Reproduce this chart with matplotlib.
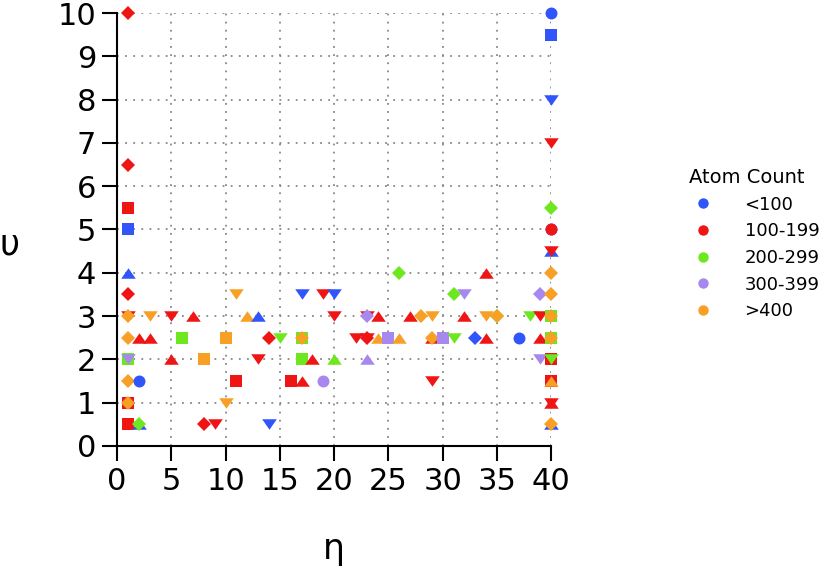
import matplotlib
matplotlib.use('Agg')
import matplotlib.pyplot as plt
from matplotlib.lines import Line2D

# data: eta, upsilon, atom-count group, marker shape
eta = [1, 1, 1, 1, 1, 1, 1, 1, 1, 1, 1, 1, 1, 1, 1, 1,
       2, 2, 2, 2, 3, 3, 5, 5, 6, 7, 8, 8, 9, 10, 10, 11, 11, 12, 13, 13,
       14, 14, 15, 16, 17, 17, 17, 17, 17, 18, 19, 19, 20, 20, 20, 22,
       23, 23, 23, 23, 23, 24, 24, 25, 26, 26, 27, 28, 29, 29, 29, 29,
       30, 31, 31, 32, 32, 33, 34, 34, 34, 35, 35, 37, 38, 39, 39, 39, 39,
       40, 40, 40, 40, 40, 40, 40, 40, 40, 40, 40, 40, 40, 40, 40, 40, 40,
       40, 40, 40, 40, 40, 40]
upsilon = [10, 6.5, 5.5, 5, 4, 3.5, 3, 3, 2.5, 2, 2, 1.5, 1, 1, 0.5, 0.5,
           2.5, 1.5, 0.5, 0.5, 3, 2.5, 3, 2, 2.5, 3, 2, 0.5, 0.5, 2.5, 1, 3.5, 1.5, 3, 3, 2,
           2.5, 0.5, 2.5, 1.5, 3.5, 2.5, 2.5, 2, 1.5, 2, 3.5, 1.5, 3.5, 3, 2, 2.5,
           3, 3, 2.5, 2.5, 2, 3, 2.5, 2.5, 4, 2.5, 3, 3, 3, 2.5, 2.5, 1.5,
           2.5, 3.5, 2.5, 3.5, 3, 2.5, 4, 3, 2.5, 3, 3, 2.5, 3, 3.5, 3, 2.5, 2,
           10, 9.5, 8, 7, 5.5, 5, 5, 4.5, 4.5, 4, 3.5, 3, 3, 2.5, 2.5, 2, 2,
           1.5, 1.5, 1, 1, 0.5, 0.5]
group = [1, 1, 1, 0, 0, 1, 1, 4, 4, 2, 3, 4, 1, 4, 1, 1,
         1, 0, 0, 2, 4, 1, 1, 1, 2, 1, 4, 1, 1, 4, 4, 4, 1, 4, 0, 1,
         1, 0, 2, 1, 0, 2, 4, 2, 1, 1, 1, 3, 0, 1, 2, 1,
         1, 3, 1, 1, 3, 1, 4, 3, 2, 4, 1, 4, 4, 1, 4, 1,
         3, 2, 2, 3, 1, 0, 1, 4, 1, 2, 4, 0, 2, 3, 1, 1, 3,
         0, 0, 0, 1, 2, 0, 1, 0, 1, 4, 4, 2, 4, 2, 4, 1, 2,
         1, 4, 1, 1, 0, 4]
shape = ['D', 'D', 's', 's', '^', 'D', 'v', 'D', 'D', 's', 'v', 'D', 's', 'D', 's', 's',
         '^', 'o', '^', 'D', 'v', '^', 'v', '^', 's', '^', 's', 'D', 'v', 's', 'v', 'v', 's', '^', '^', 'v',
         'D', 'v', 'v', 's', 'v', 's', 'D', 's', '^', '^', 'v', 'o', 'v', 'v', '^', 'v',
         'v', 'D', 'v', 'D', '^', '^', '^', 's', 'D', '^', '^', 'D', 'v', '^', 'D', 'v',
         's', 'D', 'v', 'v', '^', 'D', '^', 'v', '^', 'D', 'D', 'o', 'v', 'D', 'v', '^', 'v',
         'o', 's', 'v', 'v', 'D', 'o', 'o', '^', 'v', 'D', 'D', 's', 'D', 's', 'D', 's', 'v',
         's', '^', '^', 'v', '^', 'D']

groups = ['<100', '100-199', '200-299', '300-399', '>400']
colors = ['#3055fa', '#f01515', '#6ee81e', '#a788ee', '#f7a025']

tri_up = [(-1, -0.72), (1, -0.72), (0, 0.72)]
tri_down = [(-1, 0.72), (1, 0.72), (0, -0.72)]
mk = {'o': ('o', 8.6), 's': ('s', 8.4), 'D': ('D', 7.4),
      '^': (tri_up, 10.5), 'v': (tri_down, 10.5)}

fig = plt.figure(figsize=(8.24, 5.68), dpi=100)
ax = fig.add_axes([0.142, 0.215, 0.527, 0.762])

for x, y, g, s in zip(eta, upsilon, group, shape):
    m, size = mk[s]
    ax.plot(x, y, linestyle='none', marker=m, markersize=size,
            color=colors[g], markeredgewidth=0, clip_on=False, zorder=3)

ax.set_xlim(0, 40)
ax.set_ylim(0, 10)
ax.set_xticks(range(0, 41, 5))
ax.set_yticks(range(0, 11))
ax.grid(True, color='#888888', linestyle=(0, (1, 3.5)), linewidth=1.3)
ax.set_axisbelow(True)
for side in ['top', 'right']:
    ax.spines[side].set_visible(False)
for side in ['left', 'bottom']:
    ax.spines[side].set_linewidth(1.5)
ax.tick_params(direction='out', length=11, width=1.5, labelsize=22, pad=4)

fig.text(0.405, 0.033, 'η', fontsize=25, ha='center', va='center')
fig.text(0.012, 0.57, 'υ', fontsize=25, ha='center', va='center')

handles = [Line2D([], [], linestyle='none', marker='o', markersize=7.5,
                  color=c, markeredgewidth=0) for c in colors]
leg = fig.legend(handles, groups, title='Atom Count', frameon=False,
                 loc='center left', bbox_to_anchor=(0.816, 0.57),
                 fontsize=13, title_fontsize=14, handletextpad=1.5,
                 labelspacing=0.48, handlelength=1.6)
leg._legend_box.align = 'left'

fig.savefig('out.png', dpi=100)
